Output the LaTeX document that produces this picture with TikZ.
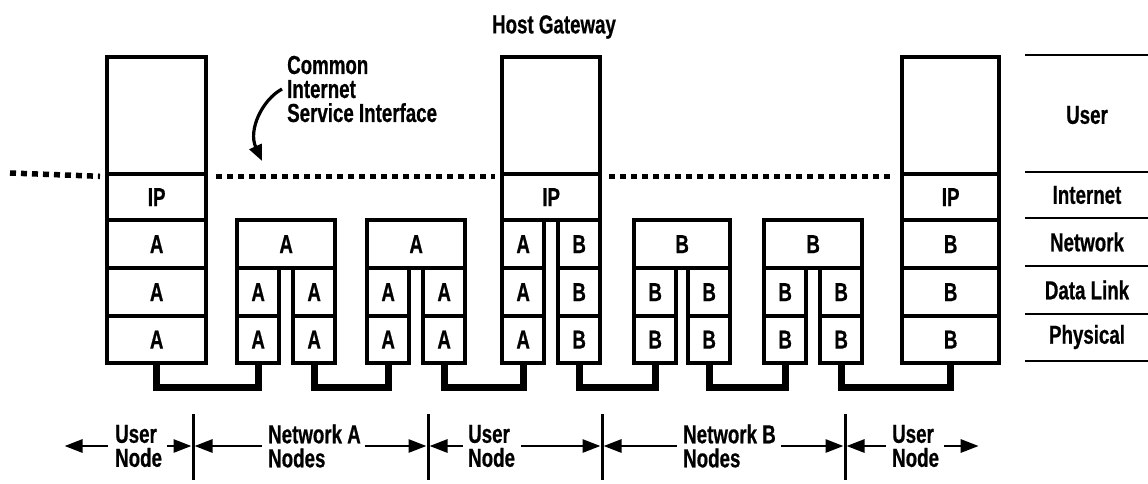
\documentclass[tikz,border=0pt]{standalone}
\usepackage{fontspec}
\setmainfont{Liberation Sans}[FakeStretch=0.72, FakeBold=0.6]
\usetikzlibrary{arrows.meta}
\newcommand\layerbox[6]{\node[lay, minimum width=#4pt, minimum height=#5pt] (#1) at (#2,#3) {#6};}
\tikzset{
 every node/.style={font=\fontsize{26}{24}\selectfont\bfseries},
 lay/.style={draw, line width=4.3pt, inner sep=0pt, anchor=north west},
 cable/.style={line width=7pt, line join=miter},
 dotline/.style={line width=5.5pt, dash pattern=on 6pt off 5pt},
 lbl/.style={inner sep=0pt, align=left, anchor=west},
 barr/.style={line width=2.8pt, -{Triangle[length=18pt,width=13pt]}, shorten >=1.5pt},
 divl/.style={line width=3pt},
 rline/.style={line width=2.8pt},
 carr/.style={line width=3.2pt, -{Triangle[length=16pt,width=13pt]}},
}
\begin{document}
\begin{tikzpicture}[x=1pt,y=-1pt]
\useasboundingbox (0,0) rectangle (1148,483);
% left host
\layerbox{hlU}{105}{55}{99}{117}{}
\layerbox{hlIP}{105}{172}{99}{46}{IP}
\layerbox{hlA1}{105}{218}{99}{48}{A}
\layerbox{hlA2}{105}{266}{99}{48}{A}
\layerbox{hlA3}{105}{314}{99}{47}{A}
% network A node 1
\layerbox{aaN}{235}{218}{98}{48}{A}
\layerbox{aaL1}{235}{266}{42}{48}{A}
\layerbox{aaL2}{235}{314}{42}{47}{A}
\layerbox{aaR1}{291}{266}{42}{48}{A}
\layerbox{aaR2}{291}{314}{42}{47}{A}
% network A node 2
\layerbox{abN}{365}{218}{98}{48}{A}
\layerbox{abL1}{365}{266}{42}{48}{A}
\layerbox{abL2}{365}{314}{42}{47}{A}
\layerbox{abR1}{421}{266}{42}{48}{A}
\layerbox{abR2}{421}{314}{42}{47}{A}
% gateway
\layerbox{gU}{500}{55}{98}{117}{}
\layerbox{gIP}{500}{172}{98}{46}{IP}
\layerbox{gA1}{500}{218}{42}{48}{A}
\layerbox{gA2}{500}{266}{42}{48}{A}
\layerbox{gA3}{500}{314}{42}{47}{A}
\layerbox{gB1}{556}{218}{42}{48}{B}
\layerbox{gB2}{556}{266}{42}{48}{B}
\layerbox{gB3}{556}{314}{42}{47}{B}
% network B node 1
\layerbox{baN}{632}{218}{96}{48}{B}
\layerbox{baL1}{632}{266}{42}{48}{B}
\layerbox{baL2}{632}{314}{42}{47}{B}
\layerbox{baR1}{686}{266}{42}{48}{B}
\layerbox{baR2}{686}{314}{42}{47}{B}
% network B node 2
\layerbox{bbN}{762}{218}{98}{48}{B}
\layerbox{bbL1}{762}{266}{42}{48}{B}
\layerbox{bbL2}{762}{314}{42}{47}{B}
\layerbox{bbR1}{818}{266}{42}{48}{B}
\layerbox{bbR2}{818}{314}{42}{47}{B}
% right host
\layerbox{rU}{900}{55}{97}{117}{}
\layerbox{rIP}{900}{172}{97}{46}{IP}
\layerbox{rB1}{900}{218}{97}{48}{B}
\layerbox{rB2}{900}{266}{97}{48}{B}
\layerbox{rB3}{900}{314}{97}{47}{B}
% cables
\draw[cable] (hlA3.south) -- ++(0,22) -| (aaL2.south);
\draw[cable] (aaR2.south) -- ++(0,22) -| (abL2.south);
\draw[cable] (abR2.south) -- ++(0,22) -| (gA3.south);
\draw[cable] (gB3.south) -- ++(0,22) -| (baL2.south);
\draw[cable] (baR2.south) -- ++(0,22) -| (bbL2.south);
\draw[cable] (bbR2.south) -- ++(0,22) -| (rB3.south);
% dotted interface line
\coordinate (dl0) at (10,173);
\draw[dotline] (dl0) -- ([xshift=-5pt]hlU.south west);
\draw[dotline] ([xshift=8pt]hlU.south east) -- ([xshift=-5pt]gU.south west);
\draw[dotline] ([xshift=7pt]gU.south east) -- ([xshift=-7pt]rU.south west);
% labels top
\node (hg) at (554,27) {Host Gateway};
\node[lbl, align=left, font=\fontsize{26}{24}\selectfont\bfseries] (cisi) at (287,89) {Common\\Internet\\Service Interface};
\coordinate (cisiTip) at (262,161);
\draw[carr] ([xshift=-5pt]cisi.west) .. controls (262,100) and (248,130) .. (cisiTip);
% right layer labels
\foreach \yy in {55,172,218,266,314,361} \draw[rline] (1025,\yy) -- (1148,\yy);
\node (lU) at (1087,115) {User};
\node (lI) at (1087,195) {Internet};
\node (lN) at (1087,242) {Network};
\node (lD) at (1087,290) {Data Link};
\node (lP) at (1087,337) {Physical};
% bottom labels
\node[lbl] (un1) at (115,446) {User\\Node};
\node[lbl] (na) at (268,446) {Network A\\Nodes};
\node[lbl] (un2) at (468,446) {User\\Node};
\node[lbl] (nb) at (683,446) {Network B\\Nodes};
\node[lbl] (un3) at (892,446) {User\\Node};
\coordinate (d1) at (193,446);
\coordinate (d2) at (428,446);
\coordinate (d3) at (602,446);
\coordinate (d4) at (845,446);
\foreach \dx in {193,428,602,845} \draw[divl] (\dx,414) -- (\dx,480);
\draw[barr] ([xshift=-7pt]un1.west) -- ++(-45,0);
\draw[barr] ([xshift=5pt]un1.east) -- (d1);
\draw[barr] ([xshift=-6pt]na.west) -- (d1);
\draw[barr] ([xshift=4pt]na.east) -- (d2);
\draw[barr] ([xshift=-5pt]un2.west) -- (d2);
\draw[barr] ([xshift=6pt]un2.east) -- (d3);
\draw[barr] ([xshift=-6pt]nb.west) -- (d3);
\draw[barr] ([xshift=5pt]nb.east) -- (d4);
\draw[barr] ([xshift=-6pt]un3.west) -- (d4);
\draw[barr] ([xshift=5pt]un3.east) -- ++(36,0);
\end{tikzpicture}
\end{document}
